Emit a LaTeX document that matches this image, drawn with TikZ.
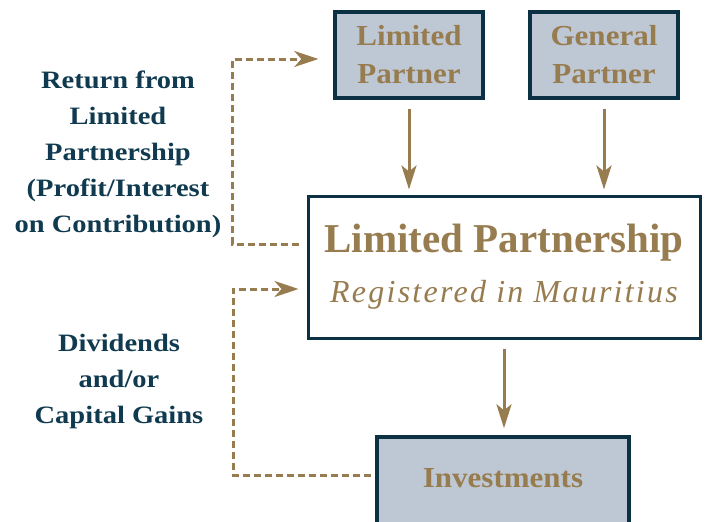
\documentclass[tikz,border=0pt]{standalone}
\usepackage{fontspec}
\usepackage{xcolor}
\usetikzlibrary{arrows.meta}

\newfontfamily\sidefont[FakeStretch=1.14]{Liberation Serif}
\newfontfamily\boxfont[FakeStretch=1.07]{Liberation Serif}
\newfontfamily\titlefont{Liberation Serif}
\newfontface\regfont[LetterSpace=7]{Liberation Serif Italic}

\definecolor{lpbrown}{RGB}{151,124,79}
\definecolor{lpnavy}{RGB}{12,48,68}
\definecolor{lptext}{RGB}{16,58,79}
\definecolor{lpgrey}{RGB}{190,200,212}

\tikzset{
    partybox/.style={draw=lpnavy, line width=3.4pt, fill=lpgrey, text=lpbrown,
        minimum width=148pt, minimum height=86pt, inner sep=0pt, align=center,
        font=\boxfont\bfseries\fontsize{29}{38}\selectfont},
    lpbox/.style={draw=lpnavy, line width=3pt, fill=white, text=lpbrown,
        minimum width=392pt, minimum height=142pt, inner sep=0pt, align=center,
        font=\fontsize{32}{50}\selectfont},
    sidetext/.style={text=lptext, align=center, inner sep=0pt,
        font=\sidefont\bfseries\fontsize{25}{36}\selectfont},
    flow/.style={draw=lpbrown, line width=3pt,
        -{Stealth[length=24pt,width=15pt,inset=6pt]}},
    retflow/.style={draw=lpbrown, line width=3pt, dash pattern=on 7pt off 4pt,
        -{Stealth[length=24pt,width=16pt,inset=7pt]}}
}

\begin{document}
\begin{tikzpicture}[x=1pt,y=-1pt]
    \clip (0,0) rectangle (705,522);

    \node[partybox] (lp) at (409,55) {Limited\\Partner};
    \node[partybox] (gp) at (604,55) {General\\Partner};
    \node[lpbox] (lpship) at (504,267)
        {{\titlefont\bfseries\fontsize{41}{50}\selectfont Limited Partnership}\\
         {\regfont Registered in Mauritius}};
    \node[partybox, minimum width=252pt, minimum height=102pt,
        text height=20pt, text depth=22pt] (invest) at (503,488) {Investments};

    \node[sidetext] (ret) at (118,154)
        {Return from\\Limited\\Partnership\\(Profit/Interest\\on Contribution)};
    \node[sidetext] (div) at (119,381) {Dividends\\and/or\\Capital Gains};

    \draw[flow, shorten <=9pt, shorten >=5pt] (lp.south) -- (lp.south |- lpship.north);
    \draw[flow, shorten <=9pt, shorten >=5pt] (gp.south) -- (gp.south |- lpship.north);
    \draw[flow, shorten <=9pt, shorten >=7pt] (lpship.south) -- (lpship.south |- invest.north);

    \draw[retflow, shorten <=8pt, shorten >=15pt]
        ([yshift=23pt]lpship.west) -- ++(-74,0) |- ([yshift=-4pt]lp.west);
    \draw[retflow, shorten <=4pt, shorten >=8pt]
        ([yshift=13pt]invest.west) -- ++(-142,0) |- ([yshift=-22pt]lpship.west);
\end{tikzpicture}
\end{document}
